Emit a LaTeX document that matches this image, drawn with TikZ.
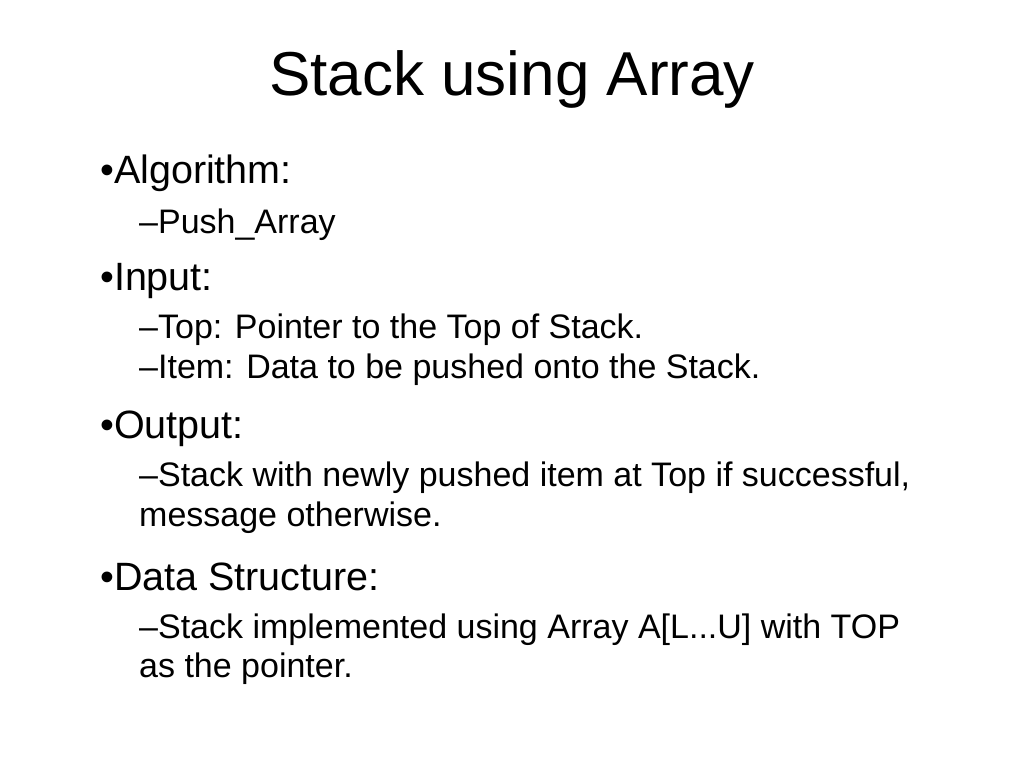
\documentclass[tikz,border=0pt]{standalone}
\usepackage{fontspec}
\setmainfont{Liberation Sans}
\usetikzlibrary{positioning}
\begin{document}
\begin{tikzpicture}[
    x=1pt, y=-1pt,
    title/.style={anchor=base, inner sep=0pt, font=\fontsize{62}{70}\selectfont},
    lvlone/.style={anchor=base west, inner sep=0pt, font=\fontsize{39.5}{42}\selectfont},
    lvltwo/.style={anchor=base west, inner sep=0pt, font=\fontsize{34}{39}\selectfont}
]
\useasboundingbox[fill=white] (0,0) rectangle (1024,768);

% --- Title ---
\node[title] (head) at (512,95) {Stack using Array};

% --- Bullets ---
\node[lvlone] (algo) at (100,183) {\textbullet Algorithm:};
\node[lvltwo] (algoa) at (139,233) {--Push\_Array};

\node[lvlone] (inp) at (100,290) {\textbullet Input:};
\node[lvltwo] (inpa) at (139,338) {--Top: Pointer to the Top of Stack.};
\node[lvltwo] (inpb) at (139,378) {--Item: Data to be pushed onto the Stack.};

\node[lvlone] (outp) at (100,438) {\textbullet Output:};
\node[lvltwo] (outpa) at (139,486) {--Stack with newly pushed item at Top if successful,};
\node[lvltwo] (outpb) at (139,526) {message otherwise.};

\node[lvlone] (ds) at (100,590) {\textbullet Data Structure:};
\node[lvltwo] (dsa) at (139,638) {--Stack implemented using Array A[L...U] with TOP};
\node[lvltwo] (dsb) at (139,677) {as the pointer.};

\end{tikzpicture}
\end{document}
